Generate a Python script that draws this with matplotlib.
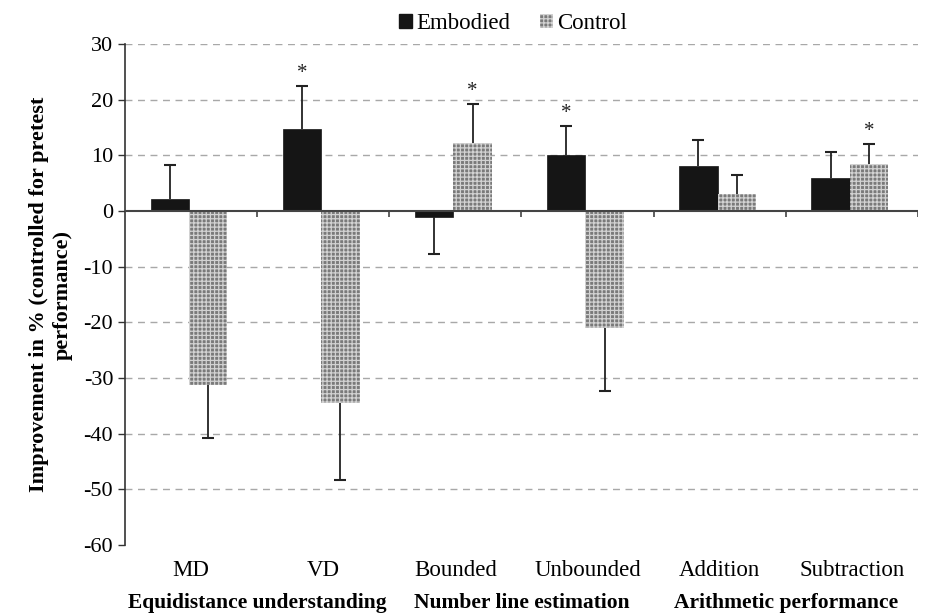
import numpy as np
import matplotlib
matplotlib.use('Agg')
import matplotlib.pyplot as plt
from matplotlib.patches import Patch
from matplotlib.transforms import blended_transform_factory

plt.rcParams['font.family'] = ['Liberation Serif', 'DejaVu Serif']
plt.rcParams['hatch.linewidth'] = 0.9
plt.rcParams['axes.unicode_minus'] = False

categories = ['MD', 'VD', 'Bounded', 'Unbounded', 'Addition', 'Subtraction']
groups = ['Equidistance understanding', 'Number line estimation', 'Arithmetic performance']

embodied = [2.2, 14.7, -1.0, 10.0, 8.1, 6.0]
embodied_err = [6.1, 7.8, 6.7, 5.3, 4.6, 4.7]
control = [-31.2, -34.5, 12.3, -21.0, 3.1, 8.4]
control_err = [9.6, 13.9, 6.9, 11.3, 3.4, 3.6]

embodied_sig = [False, True, False, True, False, False]
control_sig = [False, False, True, False, False, True]

fig = plt.figure(figsize=(9.28, 6.13), dpi=100)
ax = fig.add_axes([0.1347, 0.111, 0.8543, 0.817])

x = np.arange(len(categories))
w = 0.29
xe = x - 0.16
xc = x + 0.13

ctrl_face, ctrl_hatch = '#7a7a7a', '#d2d2d2'

ax.bar(xe, embodied, w, color='#151515', edgecolor='#151515', linewidth=0.5, zorder=3)
ax.bar(xc, control, w, color=ctrl_face, edgecolor=ctrl_hatch, linewidth=0, hatch='++++', zorder=3)

# one-sided error bars, pointing away from zero
for xs, vals, errs, sig in [(xe, embodied, embodied_err, embodied_sig),
                            (xc, control, control_err, control_sig)]:
    tips = [v + e if v >= 0 else v - e for v, e in zip(vals, errs)]
    ax.vlines(xs, vals, tips, color='#222222', linewidth=1.3, zorder=4)
    ax.plot(xs, tips, linestyle='none', marker='_', markersize=8, markeredgewidth=1.5,
            color='#222222', zorder=4)
    for xi, t, s in zip(xs, tips, sig):
        if s:
            ax.text(xi, t + 0.6, '*', ha='center', va='bottom', fontsize=15, color='#222222')

ax.set_xlim(-0.5, len(categories) - 0.5)
ax.set_ylim(-60, 30)
ax.set_yticks(np.arange(-60, 31, 10))
ax.tick_params(axis='y', labelsize=16, length=5, width=1, color='#333333', direction='out')
ax.set_xticks(x)
ax.set_xticklabels(categories, fontsize=16.5)
ax.tick_params(axis='x', length=0, pad=11)

for yv in range(-50, 31, 10):
    if yv != 0:
        ax.axhline(yv, color='#a8a8a8', linestyle=(0, (5, 4)), linewidth=1, zorder=1)
ax.axhline(0, color='#444444', linewidth=1.5, zorder=5)
ax.vlines(np.arange(len(categories)) + 0.5, -1.0, 0, color='#444444', linewidth=1.2, zorder=5)

for s in ['top', 'right', 'bottom']:
    ax.spines[s].set_visible(False)
ax.spines['left'].set_color('#333333')
ax.spines['left'].set_linewidth(1.2)

ax.set_ylabel('Improvement in % (controlled for pretest\nperformance)', fontsize=16,
              fontweight='bold', labelpad=8)

trans = blended_transform_factory(ax.transData, ax.transAxes)
for i, g in enumerate(groups):
    ax.text(2 * i + 0.5, -0.115, g, transform=trans, ha='center', va='center',
            fontsize=15.5, fontweight='bold')

handles = [Patch(facecolor='#151515', edgecolor='#151515', label='Embodied'),
           Patch(facecolor=ctrl_face, edgecolor=ctrl_hatch, linewidth=0, hatch='++++', label='Control')]
fig.legend(handles=handles, loc='upper center', bbox_to_anchor=(0.553, 1.012), ncol=2,
           frameon=False, fontsize=16.5, handlelength=0.55, handleheight=0.55,
           handletextpad=0.2, columnspacing=1.3)

fig.savefig('out.png', dpi=100)
